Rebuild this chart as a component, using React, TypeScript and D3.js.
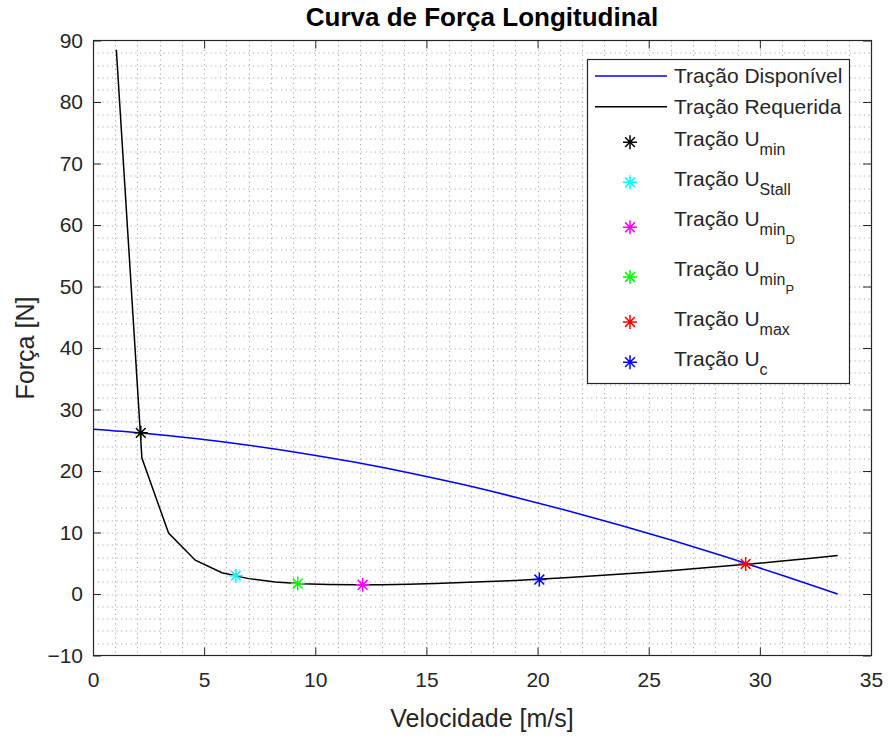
import React, { useEffect, useRef } from 'react';
import * as d3 from 'd3';

// Tração requerida (curva preta)
const velReq = [1.05, 2.2, 3.4, 4.6, 5.8, 7.0, 8.2, 9.4, 10.6, 11.8, 13.0, 14.2, 15.4, 16.6, 17.8, 19.0, 20.2, 21.4, 22.6, 23.8, 25.0, 26.2, 27.4, 28.6, 29.8, 31.0, 32.2, 33.5];
const tracaoReq = [88.5, 22.1, 9.9, 5.5, 3.45, 2.5, 1.95, 1.68, 1.55, 1.5, 1.52, 1.6, 1.7, 1.85, 2.02, 2.2, 2.42, 2.68, 2.95, 3.24, 3.55, 3.88, 4.22, 4.58, 4.96, 5.36, 5.78, 6.27];

// Tração disponível (curva azul)
const velDisp = [0, 2.2, 4.6, 7.0, 9.4, 11.8, 14.2, 16.6, 19.0, 21.4, 23.8, 26.2, 28.6, 31.0, 33.5];
const tracaoDisp = [26.8, 26.18, 25.28, 24.19, 22.9, 21.41, 19.72, 17.83, 15.74, 13.5, 11.11, 8.57, 5.88, 3.05, 0.0];

// pontos notáveis
const pontosSub = [['min'], ['Stall'], ['min', 'D'], ['min', 'P'], ['max'], ['c']];
const pontosVel = [2.15, 6.43, 12.13, 9.21, 29.36, 20.08];
const pontosTracao = [26.2, 2.98, 1.5, 1.7, 4.88, 2.35];
const pontosCor = ['#000000', '#00ffff', '#ff00ff', '#00ff00', '#ff0000', '#0000ff'];

const xTicks = [0, 5, 10, 15, 20, 25, 30, 35];
const yTicks = [-10, 0, 10, 20, 30, 40, 50, 60, 70, 80, 90];

const W = 890, H = 737;
const margin = { left: 93, right: 19, top: 40.5, bottom: 81.5 };
const FONT = '"Liberation Sans", Arial, Helvetica, sans-serif';
const txt = '#262626';

const asterisk = (r: number) => {
  const d = r * 0.7;
  return `M${-r},0L${r},0M0,${-r}L0,${r}M${-d},${-d}L${d},${d}M${-d},${d}L${d},${-d}`;
};

const Chart = () => {
  const ref = useRef<SVGSVGElement>(null);

  useEffect(() => {
    const svg = d3.select(ref.current);
    svg.selectAll('*').remove();
    const iw = W - margin.left - margin.right;
    const ih = H - margin.top - margin.bottom;
    const x = d3.scaleLinear().domain([0, 35]).range([0, iw]);
    const y = d3.scaleLinear().domain([-10, 90]).range([ih, 0]);

    svg.append('rect').attr('width', W).attr('height', H).attr('fill', '#fff');

    const g = svg.append('g').attr('transform', `translate(${margin.left},${margin.top})`);

    // grade
    const grid = g.append('g').attr('stroke', '#a8a8a8').attr('stroke-width', 1).attr('stroke-dasharray', '1.2,3.5');
    grid.selectAll('.gx').data(d3.range(1, 35, 1)).enter().append('line')
      .attr('x1', d => Math.round(x(d)) + 0.5).attr('x2', d => Math.round(x(d)) + 0.5)
      .attr('y1', 0).attr('y2', ih);
    grid.selectAll('.gy').data(d3.range(-8, 90, 2)).enter().append('line')
      .attr('y1', d => Math.round(y(d)) + 0.5).attr('y2', d => Math.round(y(d)) + 0.5)
      .attr('x1', 0).attr('x2', iw);

    // eixos
    const styleAxis = (a: any) => {
      a.select('.domain').remove();
      a.selectAll('line').attr('stroke', txt);
      a.selectAll('text').attr('fill', txt).style('font-family', FONT).style('font-size', '21px');
    };
    g.append('g').attr('transform', `translate(0,${ih})`)
      .call(d3.axisBottom(x).tickValues(xTicks).tickSize(-8).tickPadding(17)).call(styleAxis);
    g.append('g')
      .call(d3.axisTop(x).tickValues(xTicks).tickSize(-8).tickFormat(() => '')).call(styleAxis);
    g.append('g')
      .call(d3.axisLeft(y).tickValues(yTicks).tickSize(-8).tickPadding(10)).call(styleAxis);
    g.append('g').attr('transform', `translate(${iw},0)`)
      .call(d3.axisRight(y).tickValues(yTicks).tickSize(-8).tickFormat(() => '')).call(styleAxis);

    // curvas
    const lineDisp = d3.line<number>().x((d, i) => x(velDisp[i])).y(d => y(d)).curve(d3.curveMonotoneX);
    const lineReq = d3.line<number>().x((d, i) => x(velReq[i])).y(d => y(d));
    g.append('path').datum(tracaoDisp).attr('d', lineDisp).attr('fill', 'none').attr('stroke', '#0000ff').attr('stroke-width', 1.5);
    g.append('path').datum(tracaoReq).attr('d', lineReq).attr('fill', 'none').attr('stroke', '#000').attr('stroke-width', 1.5);

    g.selectAll('.pt').data(pontosVel).enter().append('path')
      .attr('d', asterisk(7))
      .attr('transform', (d, i) => `translate(${x(d)},${y(pontosTracao[i])})`)
      .attr('stroke', (d, i) => pontosCor[i]).attr('stroke-width', 1.5).attr('fill', 'none');

    // caixa
    g.append('rect').attr('x', 0.5).attr('y', 0).attr('width', iw).attr('height', ih)
      .attr('fill', 'none').attr('stroke', txt).attr('stroke-width', 1.2);

    // títulos
    svg.append('text').attr('x', margin.left + iw / 2).attr('y', 26).attr('text-anchor', 'middle')
      .attr('fill', '#000').style('font-family', FONT).style('font-size', '26px').style('font-weight', 'bold')
      .text('Curva de Força Longitudinal');
    svg.append('text').attr('x', margin.left + iw / 2).attr('y', 727).attr('text-anchor', 'middle')
      .attr('fill', txt).style('font-family', FONT).style('font-size', '25px')
      .text('Velocidade [m/s]');
    svg.append('text').attr('transform', `translate(34,${margin.top + ih / 2}) rotate(-90)`).attr('text-anchor', 'middle')
      .attr('fill', txt).style('font-family', FONT).style('font-size', '25px')
      .text('Força [N]');

    // legenda
    const lg = svg.append('g');
    lg.append('rect').attr('x', 587.5).attr('y', 59.5).attr('width', 262).attr('height', 324)
      .attr('fill', '#fff').attr('stroke', txt).attr('stroke-width', 1.2);
    const depth = [0, 0, ...pontosSub.map(s => s.length)];
    const rowY: number[] = [];
    depth.forEach((dd, i) => {
      const h = 30.7 + dd * 9.5;
      if (i === 0) rowY.push(76);
      else rowY.push(rowY[i - 1] + (30.7 + depth[i - 1] * 9.5 + h) / 2);
    });
    const lfs = 21;
    const addText = (yy: number, parts: string[]) => {
      const t = lg.append('text').attr('x', 674).attr('y', yy + 7).attr('fill', txt)
        .style('font-family', FONT).style('font-size', lfs + 'px');
      t.append('tspan').text(parts[0]);
      parts.slice(1).forEach((p, k) => {
        t.append('tspan').attr('dy', 9).style('font-size', (k === 0 ? 16 : 13) + 'px').text(p);
      });
    };
    [['#0000ff', 'Tração Disponível'], ['#000', 'Tração Requerida']].forEach(([c, l], i) => {
      lg.append('line').attr('x1', 595).attr('x2', 667).attr('y1', rowY[i]).attr('y2', rowY[i])
        .attr('stroke', c).attr('stroke-width', 1.5);
      addText(rowY[i], [l]);
    });
    pontosSub.forEach((s, i) => {
      const yy = rowY[i + 2];
      lg.append('path').attr('d', asterisk(7)).attr('transform', `translate(630,${yy})`)
        .attr('stroke', pontosCor[i]).attr('stroke-width', 1.5).attr('fill', 'none');
      const base = yy + 4 - (s.length - 1) * 5 - 7;
      addText(base, ['Tração U', ...s]);
    });
  }, []);

  return <svg ref={ref} width={W} height={H} style={{ position: 'absolute', left: 0, top: 0 }} />;
};

export default function App() {
  return <Chart />;
}
